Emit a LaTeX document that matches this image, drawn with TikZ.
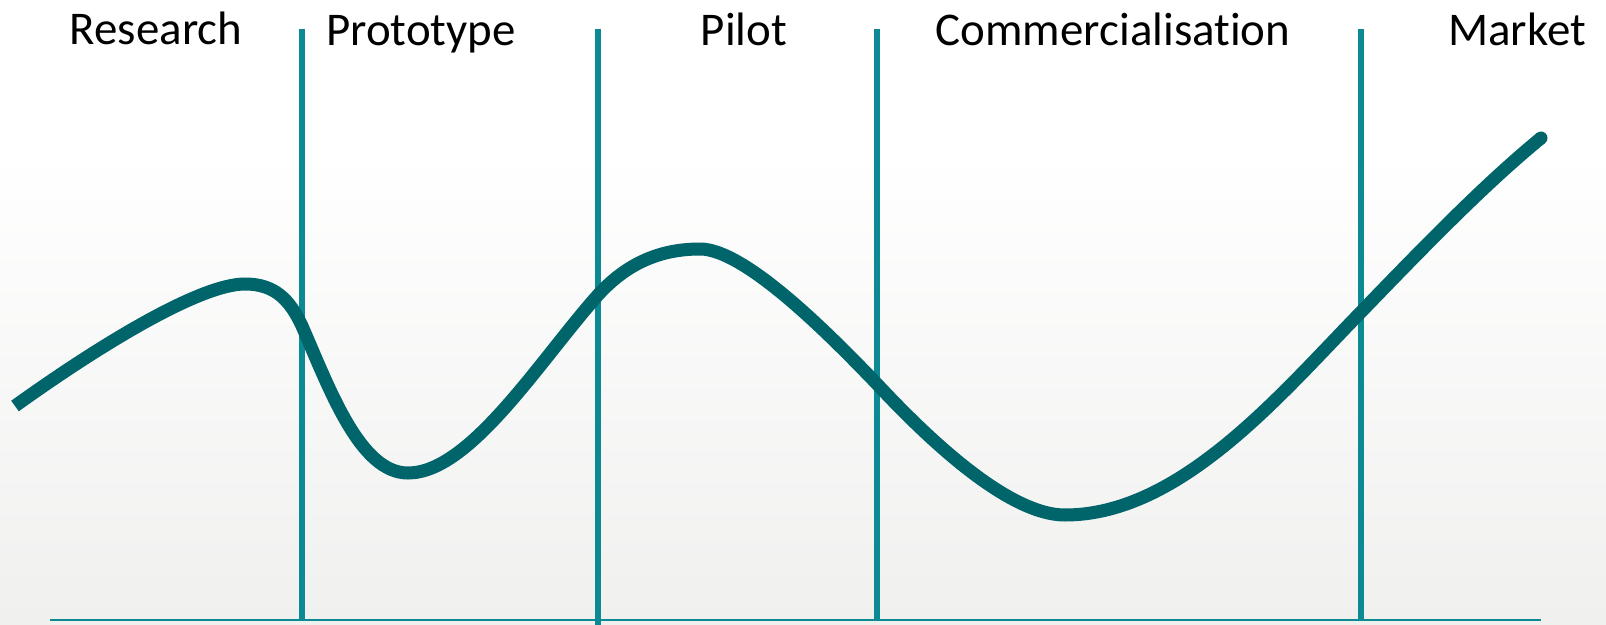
\documentclass[tikz,border=0pt]{standalone}
\usepackage{fontspec}
\setmainfont[Ligatures=NoCommon]{Carlito}
\usetikzlibrary{positioning}
\definecolor{StageLine}{HTML}{0B8A93}
\definecolor{CurveTeal}{HTML}{00656A}
\definecolor{PaperGrey}{HTML}{F0F0EF}

\tikzset{
  stage/.style={anchor=base,inner sep=0pt,font=\fontsize{26.7}{30}\selectfont},
  divider/.style={StageLine,line width=3pt},
  hype/.style={CurveTeal,line width=7.4pt}
}

\begin{document}
\begin{tikzpicture}[x=0.02cm,y=-0.02cm]
  \useasboundingbox (0,0) rectangle (1606,625);
  % background
  \fill[white] (0,0) rectangle (1606,150);
  \shade[top color=white,bottom color=PaperGrey] (0,150) rectangle (1606,625);

  % stage names
  \node[stage] (research) at (156,45) {Research};
  \node[stage] (prototype) at (421,46) {Prototype};
  \node[stage] (pilot) at (744,46) {Pilot};
  \node[stage] (commercial) at (1113,46) {Commercialisation};
  \node[stage] (market) at (1517,46) {Market};

  % axis and stage borders
  \coordinate (axisL) at (50,620);
  \coordinate (axisR) at (1541,620);
  \draw[StageLine,line width=1.4pt] (axisL) -- (axisR);
  \draw[divider] (302,29) -- (302,620);
  \draw[divider] (598,29) -- (598,625);
  \draw[divider] (877,29) -- (877,620);
  \draw[divider] (1361,29) -- (1361,620);

  % the curve
  \coordinate (curveEnd) at (1541,138);
  \draw[hype] (15,406) .. controls (100,345) and (200,284) .. (245,284)
    .. controls (275,284) and (290,300) .. (302,326)
    .. controls (330,390) and (360,473) .. (408,473)
    .. controls (470,473) and (540,360) .. (598,295)
    .. controls (628,262) and (662,249) .. (700,249)
    .. controls (745,249) and (830,335) .. (877,384)
    .. controls (920,430) and (1005,515) .. (1065,515)
    .. controls (1180,515) and (1280,395) .. (1361,312)
    .. controls (1440,230) and (1490,180) .. (curveEnd);
  \fill[CurveTeal] (curveEnd) circle[radius=3.7pt];
\end{tikzpicture}
\end{document}
